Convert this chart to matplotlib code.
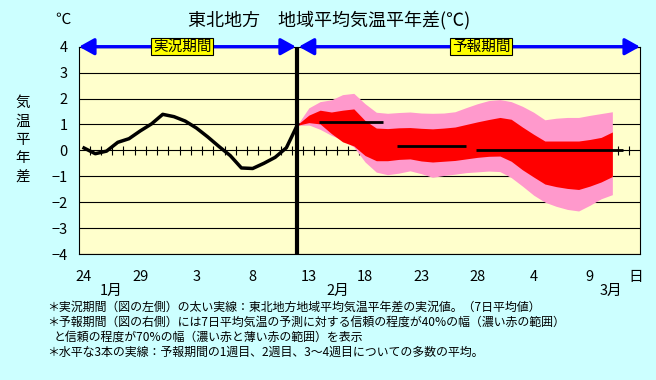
import matplotlib.pyplot as plt
import matplotlib.transforms as mtransforms
import numpy as np

plt.rcParams['font.family'] = ['Noto Sans CJK JP', 'DejaVu Sans']

# x axis: day index, 0 = first small tick on the zero line (about Jan 24 + half a day)
obs_days = np.arange(20) - 0.5
obs_vals = [0.09, -0.13, -0.03, 0.31, 0.45, 0.75, 1.02, 1.39, 1.30, 1.13,
            0.86, 0.52, 0.15, -0.20, -0.68, -0.70, -0.50, -0.27, 0.10, 1.00]

fc_days = np.arange(29) + 18.5
pink_hi = [1.00, 1.64, 1.88, 1.95, 2.15, 2.20, 1.80, 1.47, 1.43, 1.46,
           1.48, 1.44, 1.43, 1.44, 1.49, 1.65, 1.80, 1.92, 1.96, 1.88,
           1.70, 1.47, 1.18, 1.24, 1.27, 1.27, 1.35, 1.42, 1.49]
red_hi = [1.00, 1.36, 1.55, 1.48, 1.55, 1.60, 1.15, 0.86, 0.84, 0.87,
          0.88, 0.85, 0.83, 0.86, 0.90, 1.00, 1.10, 1.19, 1.27, 1.20,
          0.90, 0.62, 0.36, 0.36, 0.36, 0.36, 0.42, 0.50, 0.71]
red_lo = [0.97, 1.07, 1.02, 0.65, 0.33, 0.17, -0.20, -0.40, -0.40, -0.35,
          -0.33, -0.41, -0.45, -0.42, -0.39, -0.33, -0.27, -0.23, -0.22, -0.42,
          -0.75, -1.03, -1.30, -1.40, -1.47, -1.51, -1.38, -1.22, -1.01]
pink_lo = [0.97, 0.98, 0.81, 0.58, 0.40, 0.13, -0.45, -0.84, -0.94, -0.88,
           -0.79, -0.90, -1.04, -0.97, -0.92, -0.86, -0.83, -0.80, -0.82, -1.05,
           -1.38, -1.73, -2.00, -2.16, -2.28, -2.34, -2.12, -1.87, -1.71]

week_start = [20.37, 27.33, 34.34]
week_end = [26.08, 33.51, 47.47]
week_mean = [1.08, 0.18, 0.03]

boundary = 18.45
tick_days = np.arange(49)
date_pos = [-0.5, 4.5, 9.5, 14.5, 19.5, 24.5, 29.5, 34.5, 39.5, 44.5, 48.6]
date_labels = ['24', '29', '3', '8', '13', '18', '23', '28', '4', '9', '日']
month_pos = [1.87, 22.07, 46.4]
month_labels = ['1月', '2月', '3月']
y_ticks = [4, 3, 2, 1, 0, -1, -2, -3, -4]

notes = [
    '＊実況期間（図の左側）の太い実線：東北地方地域平均気温平年差の実況値。（7日平均値）',
    '＊予報期間（図の右側）には7日平均気温の予測に対する信頼の程度が40%の幅（濃い赤の範囲）',
    'と信頼の程度が70%の幅（濃い赤と薄い赤の範囲）を表示',
    '＊水平な3本の実線：予報期間の1週目、2週目、3～4週目についての多数の平均。',
]

W, H = 656, 380
fig = plt.figure(figsize=(W / 100, H / 100), dpi=100, facecolor='#CCFFFF')
ax = fig.add_axes([79 / W, 1 - 254 / H, (640 - 79) / W, (254 - 46.7) / H])
ax.set_facecolor('#FFFFCC')
ax.set_xlim(-0.95, 48.96)
ax.set_ylim(-4, 4)

for y in y_ticks:
    ax.axhline(y, color='black', lw=0.8, zorder=1)
ax.vlines(tick_days, -0.17, 0.17, color='black', lw=0.8, zorder=1)

ax.fill_between(fc_days, pink_lo, pink_hi, color='#FF99CC', lw=0, zorder=2)
ax.fill_between(fc_days, red_lo, red_hi, color='#FF0000', lw=0, zorder=3)
ax.hlines(week_mean, week_start, week_end, color='black', lw=2.0, zorder=4)

ax.plot(obs_days, obs_vals, color='black', lw=2.5, zorder=4)
ax.axvline(boundary, color='black', lw=3, zorder=5)

for s in ax.spines.values():
    s.set_color('black')
    s.set_linewidth(0.8)

ax.set_yticks(y_ticks)
ax.set_yticklabels([str(v).replace('-', '−') for v in y_ticks])
ax.set_xticks(date_pos)
ax.set_xticklabels(date_labels)
ax.tick_params(axis='y', length=0, pad=8, labelsize=10.5)
ax.tick_params(axis='x', length=0, pad=11.5, labelsize=10.5)

trans = mtransforms.blended_transform_factory(ax.transData, ax.transAxes)
for xp, lab in zip(month_pos, month_labels):
    ax.text(xp, -0.18, lab, transform=trans, ha='center', va='center', fontsize=10.5)

# period arrows along the top edge
arrow = dict(arrowstyle='<|-|>,head_length=0.45,head_width=0.25', color='#0000FF',
             lw=2.4, shrinkA=0, shrinkB=0, mutation_scale=20)
ax.annotate('', xy=(-0.95, 4), xytext=(boundary - 0.1, 4), arrowprops=arrow,
            annotation_clip=False, zorder=6)
ax.annotate('', xy=(boundary + 0.15, 4), xytext=(48.96, 4), arrowprops=arrow,
            annotation_clip=False, zorder=6)
box = dict(boxstyle='square,pad=0.12', fc='#FFFF00', ec='black', lw=0.8)
ax.text(8.22, 4, '実況期間', ha='center', va='center', fontsize=10.5, bbox=box,
        zorder=7, clip_on=False)
ax.text(34.84, 4, '予報期間', ha='center', va='center', fontsize=10.5, bbox=box,
        zorder=7, clip_on=False)

fig.text(63 / W, 1 - 19 / H, '℃', ha='center', va='center', fontsize=11)
fig.text(329 / W, 1 - 20 / H, '東北地方　地域平均気温平年差(℃)', ha='center',
         va='center', fontsize=13)
for i, ch in enumerate('気温平年差'):
    fig.text(23 / W, 1 - (103.3 + 18.3 * i) / H, ch, ha='center', va='center',
             fontsize=10.5)

note_x = [46.7, 46.7, 53.3, 46.7]
note_y = [307, 322.5, 337.5, 352.5]
for xp, yp, t in zip(note_x, note_y, notes):
    fig.text(xp / W, 1 - yp / H, t, ha='left', va='center', fontsize=8.6)

fig.savefig('out.png', dpi=100, facecolor=fig.get_facecolor())
